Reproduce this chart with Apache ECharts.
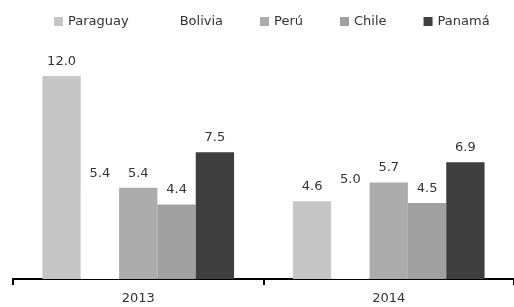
<!DOCTYPE html>
<html><head><meta charset="utf-8">
<script src="https://cdn.jsdelivr.net/npm/echarts@6/dist/echarts.min.js"></script>
<style>html,body{margin:0;padding:0;background:#fff}#c{width:514px;height:307px}</style>
</head><body><div id="c"></div>
<script>
var categories = ['2013', '2014'];
var seriesNames = ['Paraguay', 'Bolivia', 'Perú', 'Chile', 'Panamá'];
var paraguay = [12.0, 4.6];
var bolivia = [5.4, 5.0];
var peru = [5.4, 5.7];
var chile = [4.4, 4.5];
var panama = [7.5, 6.9];
var colors = ['#c6c6c6', '#ffffff', '#acacac', '#a0a0a0', '#3e3e3e'];
var values = [paraguay, bolivia, peru, chile, panama];

var chart = echarts.init(document.getElementById('c'));
var font = '"DejaVu Sans", sans-serif';
chart.setOption({
  animation: false,
  textStyle: {fontFamily: font},
  legend: {
    top: 10, left: 49,
    itemWidth: 9, itemHeight: 9, itemGap: 37,
    icon: 'rect',
    textStyle: {fontSize: 13, color: '#333', fontFamily: font},
    data: seriesNames
  },
  grid: {left: 13, top: 76, width: 510, height: 203, containLabel: false},
  xAxis: {
    type: 'category', data: categories,
    axisLine: {lineStyle: {color: '#000', width: 2}},
    axisTick: {show: true, length: 6, lineStyle: {color: '#000', width: 2}},
    axisLabel: {fontSize: 13, color: '#333', margin: 13, fontFamily: font}
  },
  yAxis: {type: 'value', min: 0, max: 12, show: false, splitLine: {show: false}},
  series: seriesNames.map(function (n, i) {
    return {
      name: n, type: 'bar', data: values[i],
      barGap: '0%', barCategoryGap: '23.5%',
      itemStyle: {color: colors[i]},
      label: {show: true, position: 'top', distance: 8, fontSize: 13, color: '#333',
        fontFamily: font, formatter: function (p) { return p.value.toFixed(1); }}
    };
  })
});
</script></body></html>
